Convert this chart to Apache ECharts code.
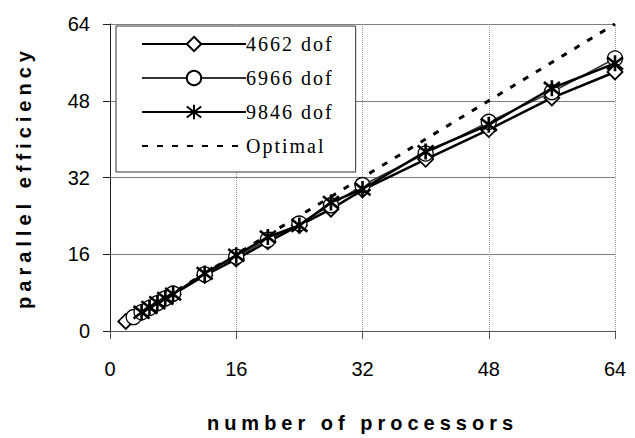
<!DOCTYPE html>
<html>
<head>
<meta charset="utf-8">
<script src="https://cdn.jsdelivr.net/npm/echarts@6/dist/echarts.min.js"></script>
<style>
  html, body { margin: 0; padding: 0; background: #fff; }
  #chart { width: 635px; height: 438px; }
  /* spaced-out lettering like the scanned figure */
  #chart text[style*="bold"] { letter-spacing: 5px; }
  #chart text[style*="Serif"] { letter-spacing: 2px; }
</style>
</head>
<body>
<div id="chart"></div>
<script>
const procs4662 = [2, 4, 6, 8, 12, 16, 20, 24, 28, 32, 40, 48, 56, 64];
const eff4662 = [2, 3.9, 5.8, 7.6, 11.6, 15, 18.6, 22, 25.4, 29.4, 35.8, 42, 48.6, 54];

const procs6966 = [3, 4, 5, 6, 7, 8, 12, 16, 20, 24, 28, 32, 40, 48, 56, 64];
const eff6966 = [2.9, 3.9, 4.8, 5.8, 6.8, 7.8, 11.8, 15.5, 19, 22.4, 26.2, 30.4, 37, 43.6, 49.8, 56.8];

const procs9846 = [4, 5, 6, 7, 8, 12, 16, 20, 24, 28, 32, 40, 48, 56, 64];
const eff9846 = [3.9, 4.9, 5.9, 6.8, 7.7, 12, 15.8, 19.6, 22, 26.8, 29.6, 37.4, 43, 50.6, 55.8];

const procsOptimal = [2, 4, 8, 16, 32, 64];
const effOptimal = [2, 4, 8, 16, 32, 64];

const seriesNames = ['4662 dof', '6966 dof', '9846 dof', 'Optimal'];
const axisTicks = [0, 16, 32, 48, 64];

const pair = (xs, ys) => xs.map((x, i) => [x, ys[i]]);

const asterisk = 'path://M0,0 L10,10 M10,0 L0,10 M5,-1.5 L5,11.5';

const chart = echarts.init(document.getElementById('chart'), null, { renderer: 'svg' });

const tickFont = { fontFamily: 'Liberation Sans', fontSize: 20, color: '#000' };

chart.setOption({
  animation: false,
  grid: { left: 110, right: 20, top: 24, bottom: 106 },
  legend: {
    data: seriesNames,
    orient: 'vertical',
    left: 116,
    top: 26,
    padding: [8, 38, 16, 25],
    itemWidth: 104,
    itemHeight: 18,
    itemGap: 14,
    backgroundColor: '#fff',
    borderColor: '#333',
    borderWidth: 1,
    textStyle: { fontFamily: 'Liberation Serif', fontSize: 20, color: '#000', padding: [0, 0, 0, -5] }
  },
  xAxis: {
    type: 'value',
    min: axisTicks[0],
    max: axisTicks[axisTicks.length - 1],
    interval: 16,
    name: 'number of processors',
    nameLocation: 'middle',
    nameGap: 82,
    nameTextStyle: { fontFamily: 'Liberation Sans', fontWeight: 'bold', fontSize: 20, color: '#000' },
    axisLine: { lineStyle: { color: '#555', width: 1 } },
    axisTick: { show: true, length: 8, lineStyle: { color: '#555' } },
    axisLabel: Object.assign({ margin: 28 }, tickFont),
    splitLine: { show: true, lineStyle: { color: '#999', type: 'dotted', width: 1 } }
  },
  yAxis: {
    type: 'value',
    min: axisTicks[0],
    max: axisTicks[axisTicks.length - 1],
    interval: 16,
    name: 'parallel efficiency',
    nameLocation: 'middle',
    nameGap: 76,
    nameTextStyle: { fontFamily: 'Liberation Sans', fontWeight: 'bold', fontSize: 20, color: '#000' },
    axisLine: { show: true, lineStyle: { color: '#222', width: 1 } },
    axisTick: { show: true, length: 7, lineStyle: { color: '#222' } },
    axisLabel: Object.assign({ margin: 20 }, tickFont),
    splitLine: { show: true, lineStyle: { color: '#808080', width: 1 } }
  },
  series: [
    {
      name: seriesNames[0],
      type: 'line',
      data: pair(procs4662, eff4662),
      symbol: 'diamond',
      symbolSize: 15,
      lineStyle: { color: '#000', width: 2.5 },
      itemStyle: { color: '#fff', borderColor: '#000', borderWidth: 1.8 },
      z: 3
    },
    {
      name: seriesNames[1],
      type: 'line',
      data: pair(procs6966, eff6966),
      symbol: 'circle',
      symbolSize: 15,
      lineStyle: { color: '#333', width: 1.6 },
      itemStyle: { color: '#fff', borderColor: '#000', borderWidth: 1.3 },
      z: 4
    },
    {
      name: seriesNames[2],
      type: 'line',
      data: pair(procs9846, eff9846),
      symbol: asterisk,
      symbolSize: 16,
      lineStyle: { color: '#000', width: 2.5 },
      itemStyle: { color: 'transparent', borderColor: '#000', borderWidth: 2.6 },
      z: 5
    },
    {
      name: seriesNames[3],
      type: 'line',
      data: pair(procsOptimal, effOptimal),
      symbol: 'none',
      lineStyle: { color: '#000', width: 3, type: [6, 9] },
      itemStyle: { color: 'transparent', borderColor: 'transparent' },
      z: 2
    }
  ]
});

window.addEventListener('resize', () => chart.resize());
</script>
</body>
</html>
